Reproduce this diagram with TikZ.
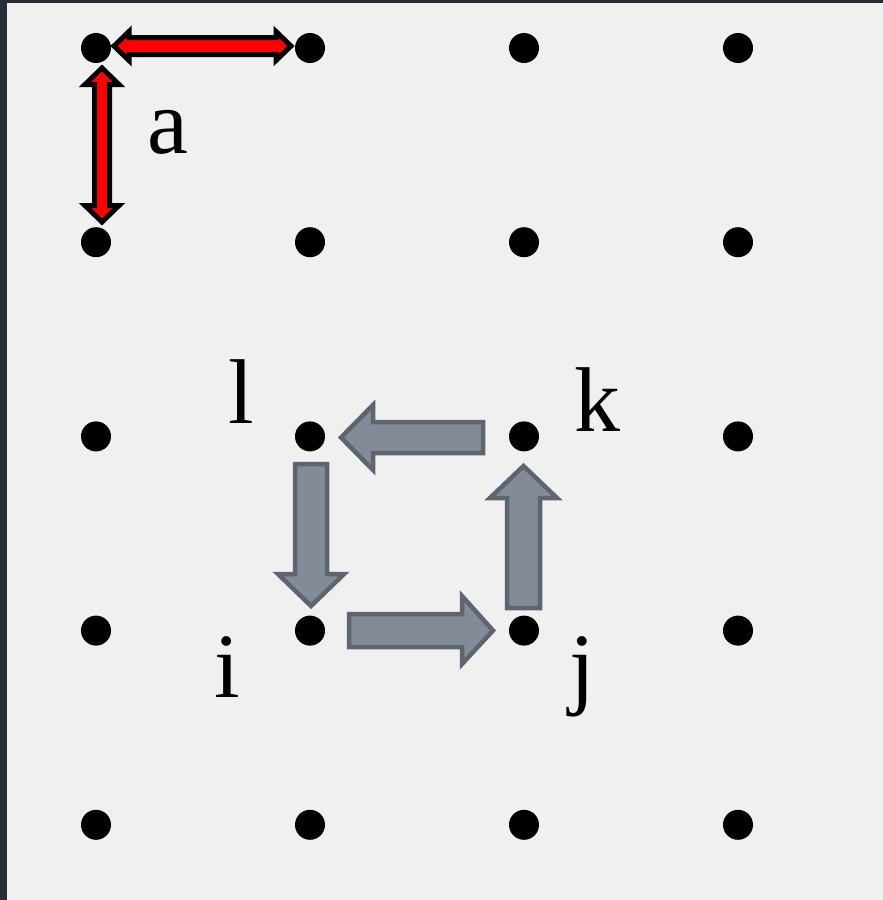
\documentclass[tikz,border=0pt]{standalone}
\usepackage{fontspec}
\setmainfont{Liberation Serif}
\definecolor{frame}{HTML}{272E37}
\definecolor{paper}{HTML}{F0F0F0}
\definecolor{slatefill}{HTML}{848B98}
\definecolor{slateline}{HTML}{5E6470}
\begin{document}
\begin{tikzpicture}[x=1pt, y=-1pt,
    dot/.style={circle, fill=black, inner sep=0pt, minimum size=30pt},
    redarrow/.style={draw=black, fill=red, line width=5pt},
    grayarrow/.style={draw=slateline, fill=slatefill, line width=4.5pt},
    letter/.style={anchor=base, inner sep=0pt, font=\fontsize{92}{92}\selectfont}]
    % Frame
    \fill[frame] (0, 0) rectangle (883, 900);
    \fill[paper] (7, 3) rectangle (883, 900);
    \useasboundingbox (0, 0) rectangle (883, 900);

    % Dots
    \foreach \c in {1,...,4}
      \foreach \r in {1,...,5}
        \node[dot] (d\c\r) at ({96 + 214*(\c-1)}, {48 + 194.2*(\r-1)}) {};

    % Spacing a
    \draw[redarrow] (114, 46) -- (129, 31.5) -- (129, 37.5) -- (276, 37.5) -- (276, 31.5)
        -- (291, 46) -- (276, 60.5) -- (276, 54.5) -- (129, 54.5) -- (129, 60.5) -- cycle;
    \draw[redarrow] (102, 68) -- (119, 84.5) -- (109.5, 84.5) -- (109.5, 205.5) -- (119, 205.5)
        -- (102, 222) -- (85, 205.5) -- (94.5, 205.5) -- (94.5, 84.5) -- (85, 84.5) -- cycle;
    \node[letter] (lbla) at (167.5, 153) {a};

    % Circulation i -> j -> k -> l
    \draw[grayarrow] (349, 614) -- (462, 614) -- (462, 596) -- (493, 630.5)
        -- (462, 664) -- (462, 647) -- (349, 647) -- cycle;
    \draw[grayarrow] (507, 608) -- (507, 498) -- (490, 498) -- (523.5, 466)
        -- (557, 498) -- (540, 498) -- (540, 608) -- cycle;
    \draw[grayarrow] (341, 437.5) -- (373, 405) -- (373, 422) -- (483, 422)
        -- (483, 453) -- (373, 453) -- (373, 470) -- cycle;
    \draw[grayarrow] (295, 464) -- (327, 464) -- (327, 574) -- (344, 574)
        -- (311, 606) -- (278, 574) -- (295, 574) -- cycle;

    % Labels
    \node[letter] (lbll) at (241, 423) {l};
    \node[letter] (lblk) at (597, 431) {k};
    \node[letter] (lbli) at (227.5, 697) {i};
    \node[letter] (lblj) at (582, 697) {j};
\end{tikzpicture}
\end{document}
